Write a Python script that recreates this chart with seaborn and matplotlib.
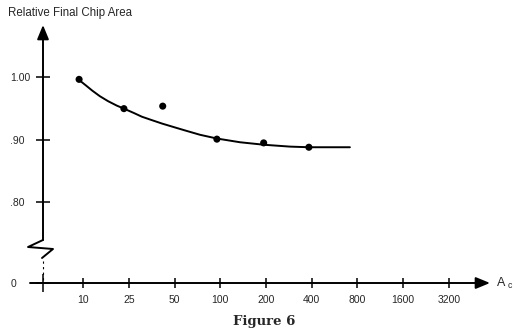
import numpy as np
import pandas as pd
import matplotlib
matplotlib.use("Agg")
import matplotlib.pyplot as plt
import seaborn as sns

# values (A_c on the horizontal axis, relative final chip area up)
chip_ac = [8.7, 23.4, 41.8, 95, 193, 383]
chip_area = [0.997, 0.950, 0.954, 0.901, 0.895, 0.888]

# fitted curve
curve_ac = [8.7, 11, 13, 15.5, 18.2, 21, 23.4, 27, 30.5, 35, 41.4, 50, 58.6, 73.6,
            95, 135, 194, 288, 383, 713]
curve_area = [0.996, 0.987, 0.979, 0.970, 0.962, 0.955, 0.950, 0.943, 0.937, 0.932,
              0.926, 0.920, 0.915, 0.908, 0.902, 0.896, 0.892, 0.889, 0.888, 0.888]

x_ticks = [10, 25, 50, 100, 200, 400, 800, 1600, 3200]
x_labels = ['10', '25', '50', '100', '200', '400', '800', '1600', '3200']
y_ticks = [0.67, 0.80, 0.90, 1.00]
y_labels = ['0', '.80', '.90', '1.00']


def fwd(a):
    # 10 -> 0, 25 -> 1, then one step per doubling
    a = np.asarray(a, dtype=float)
    return np.where(a < 25, (a - 10) / 15, np.log2(np.clip(a, 25, None) / 25) + 1)


def inv(p):
    p = np.asarray(p, dtype=float)
    return np.where(p < 1, 10 + 15 * p, 25 * 2 ** (np.clip(p, 1, None) - 1))


points = pd.DataFrame({'ac': chip_ac, 'area': chip_area})
curve = pd.DataFrame({'ac': curve_ac, 'area': curve_area})

sns.set_style('white')
plt.rcParams['font.family'] = ['Liberation Sans', 'DejaVu Sans']

W, H = 517, 335
fig = plt.figure(figsize=(W / 100, H / 100), dpi=100)
ax = fig.add_axes([30 / W, (H - 283) / H, 460 / W, 258 / H])

ax.set_xscale('function', functions=(fwd, inv))
ax.set_xlim(-7.4, 5960)
ax.set_ylim(0.67, 1.0843)

sns.lineplot(data=curve, x='ac', y='area', sort=False, color='black', lw=1.4, ax=ax)
sns.scatterplot(data=points, x='ac', y='area', color='black', s=26, edgecolor='none', ax=ax, zorder=3)

x_origin = -3.1
for s in ax.spines.values():
    s.set_visible(False)
ax.spines['left'].set_position(('data', x_origin))

ax.set_xticks(x_ticks, x_labels)
ax.set_xticks([x_origin], minor=True)
ax.set_yticks(y_ticks, y_labels)
ax.tick_params(axis='x', which='major', direction='inout', length=7.5, width=1.3,
               pad=5, labelsize=7.5, bottom=True)
ax.tick_params(axis='x', which='minor', direction='inout', length=13, width=1.3, bottom=True)
ax.tick_params(axis='y', direction='inout', length=9.4, width=1.3, pad=19,
               labelsize=7.5, left=True)
plt.setp(ax.get_yticklabels(), ha='left')
ax.set_xlabel('')
ax.set_ylabel('')
ax.grid(False)

# axes with arrow heads
arrow = dict(arrowstyle='-|>,head_length=0.85,head_width=0.35', color='black',
             lw=1.4, mutation_scale=10, shrinkA=0, shrinkB=0)
ox = (43 - 30) / 460
ax.annotate('', xy=(1, 0), xytext=(0, 0), xycoords='axes fraction', arrowprops=arrow,
            annotation_clip=False)
ax.annotate('', xy=(ox, 1), xytext=(ox, 0.1667), xycoords='axes fraction', arrowprops=arrow,
            annotation_clip=False)

# axis break
ax.plot([ox, -0.0043, 0.050, 0.0261], [0.1667, 0.1395, 0.1318, 0.0969],
        transform=ax.transAxes, color='black', lw=1.4, clip_on=False)
ax.plot([ox, ox], [0.0853, 0.0116], transform=ax.transAxes, color='black',
        lw=0.8, ls=(0, (2, 3)), clip_on=False)

fig.text(8 / W, 1 - 13 / H, 'Relative Final Chip Area', fontsize=8.3, ha='left', va='center')
fig.text(496 / W, 1 - 283 / H, r'A $_{\mathregular{c}}$', fontsize=9, ha='left', va='center')
fig.text(264 / W, 1 - 322 / H, 'Figure 6', fontsize=9.5, fontweight='bold',
         family=['DejaVu Serif'], ha='center', va='center')

fig.savefig('out.png', dpi=100)
